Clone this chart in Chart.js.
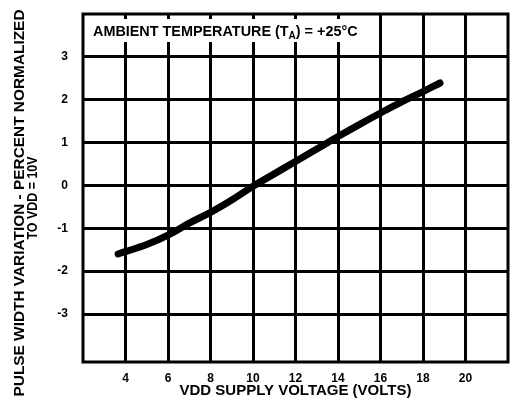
<!DOCTYPE html>
<html lang="en">
<head>
<meta charset="UTF-8">
<title>Pulse width variation vs VDD</title>
<style>
    html, body { margin: 0; padding: 0; background: #fff; }
    canvas { display: block; }
</style>
</head>
<body>
<canvas id="myChart" width="510" height="404"></canvas>

<script src="https://cdn.jsdelivr.net/npm/chart.js"></script>
<script>
    // values
    const vdd = [3.65, 5, 6, 7, 8, 9, 10, 11, 12, 13, 14, 15, 16, 17, 18, 18.8];
    const variation = [-1.6, -1.38, -1.16, -0.88, -0.63, -0.34, -0.02, 0.27, 0.56, 0.85, 1.14, 1.42, 1.69, 1.95, 2.19, 2.39];
    const x_ticks = [4, 6, 8, 10, 12, 14, 16, 18, 20];
    const y_ticks = [-3, -2, -1, 0, 1, 2, 3];

    const font_family = '"Liberation Sans", Arial, sans-serif';

    // white box with the temperature note in the top row
    const ambientLabel = {
        id: 'ambientLabel',
        beforeDatasetsDraw(chart) {
            const {ctx, chartArea} = chart;
            ctx.save();
            ctx.fillStyle = '#fff';
            ctx.fillRect(chartArea.left + 2, chartArea.top + 5, 286, 23);
            ctx.fillStyle = '#000';
            ctx.textBaseline = 'middle';
            ctx.font = 'bold 14.4px ' + font_family;
            let x = chartArea.left + 10;
            const y = chartArea.top + 18;
            const part1 = 'AMBIENT TEMPERATURE (T';
            ctx.fillText(part1, x, y);
            x += ctx.measureText(part1).width;
            ctx.font = 'bold 10px ' + font_family;
            ctx.fillText('A', x, y + 4);
            x += ctx.measureText('A').width;
            ctx.font = 'bold 14.4px ' + font_family;
            ctx.fillText(') = +25°C', x, y);
            ctx.restore();
        }
    };

    // squeeze or stretch a line of text to a given width
    function fitText(ctx, text, x, y, width) {
        const w = ctx.measureText(text).width;
        ctx.save();
        ctx.translate(x, y);
        ctx.scale(width / w, 1);
        ctx.fillText(text, 0, 0);
        ctx.restore();
    }

    // frame round the plot and the two-line y title
    const frameAndTitle = {
        id: 'frameAndTitle',
        afterDraw(chart) {
            const {ctx, chartArea} = chart;
            ctx.save();
            ctx.strokeStyle = '#000';
            ctx.lineWidth = 3;
            ctx.strokeRect(chartArea.left, chartArea.top, chartArea.right - chartArea.left, chartArea.bottom - chartArea.top);

            const cy = (chartArea.top + chartArea.bottom) / 2;
            ctx.translate(0, cy);
            ctx.rotate(-Math.PI / 2);
            ctx.fillStyle = '#000';
            ctx.textAlign = 'center';
            ctx.textBaseline = 'middle';
            ctx.font = 'bold 14px ' + font_family;
            fitText(ctx, 'PULSE WIDTH VARIATION - PERCENT NORMALIZED', -15, 20, 387);
            fitText(ctx, 'TO VDD = 10V', -10, 33, 83);
            ctx.restore();
        }
    };

    const ctx = document.getElementById('myChart');
    const myChart = new Chart(ctx, {
        type: 'line',
        data: {
            datasets: [{
                data: vdd.map((v, i) => ({x: v, y: variation[i]})),
                borderColor: '#000',
                borderWidth: 7,
                borderCapStyle: 'round',
                borderJoinStyle: 'round',
                pointRadius: 0,
                tension: 0.4,
                fill: false,
            }],
        },
        options: {
            responsive: false,
            animation: false,
            layout: {padding: {top: 14, right: 2, left: 0, bottom: 0}},
            plugins: {
                legend: {display: false},
                tooltip: {enabled: false},
            },
            scales: {
                x: {
                    type: 'linear',
                    min: 2,
                    max: 22,
                    afterBuildTicks: scale => { scale.ticks = x_ticks.map(v => ({value: v})); },
                    afterFit: scale => {
                        scale.height = 42;
                        scale.paddingLeft = 0;
                        scale.paddingRight = 0;
                    },
                    grid: {color: '#000', lineWidth: 3, drawTicks: false},
                    border: {display: false},
                    ticks: {
                        color: '#000',
                        padding: 9,
                        maxRotation: 0,
                        autoSkip: false,
                        font: {family: font_family, weight: 'bold', size: 12},
                    },
                    title: {
                        display: true,
                        text: 'VDD SUPPLY VOLTAGE (VOLTS)',
                        color: '#000',
                        padding: {top: 0, bottom: 4},
                        font: {family: font_family, weight: 'bold', size: 15},
                    },
                },
                y: {
                    type: 'linear',
                    min: -4.12,
                    max: 4,
                    afterBuildTicks: scale => { scale.ticks = y_ticks.map(v => ({value: v})); },
                    afterFit: scale => {
                        scale.width = 83;
                        scale.paddingTop = 0;
                        scale.paddingBottom = 0;
                    },
                    grid: {color: '#000', lineWidth: 3, drawTicks: false},
                    border: {display: false},
                    ticks: {
                        color: '#000',
                        padding: 15,
                        font: {family: font_family, weight: 'bold', size: 12},
                    },
                    title: {display: false},
                },
            },
        },
        plugins: [ambientLabel, frameAndTitle],
    });
</script>
</body>
</html>
